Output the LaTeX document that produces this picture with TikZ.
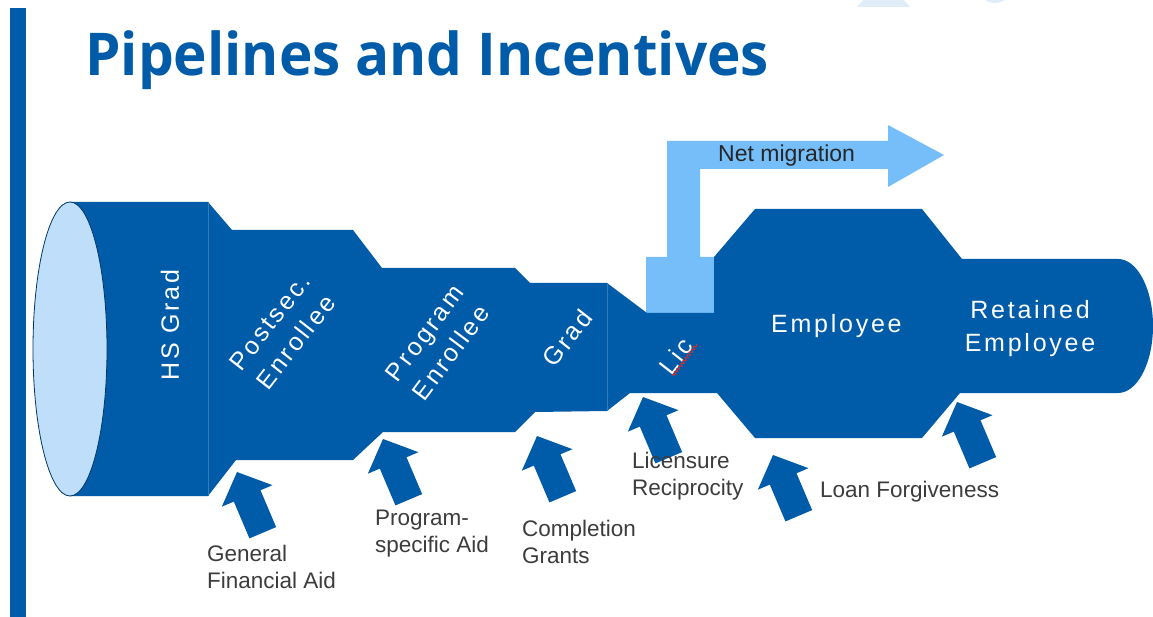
\documentclass[tikz,border=0pt]{standalone}
\usepackage{fontspec}
\setmainfont{Liberation Sans}
\newfontfamily\titlefont{Open Sans}
\newfontfamily\pipefont[LetterSpace=11]{Liberation Sans}
\usetikzlibrary{decorations.pathmorphing}
\definecolor{pipe}{RGB}{0,92,168}
\definecolor{mig}{RGB}{117,190,250}
\definecolor{capc}{RGB}{190,222,250}
\definecolor{lbl}{RGB}{60,60,60}
\definecolor{logo}{RGB}{224,236,248}
\definecolor{squig}{RGB}{215,45,45}
\begin{document}
\begin{tikzpicture}[x=1pt,y=-1pt,
  inlabel/.style={text=white, font=\pipefont\fontsize{25}{33}\selectfont, inner sep=0pt, align=center},
  outlabel/.style={text=lbl, font=\fontsize{22.5}{27}\selectfont, inner sep=0pt, align=left, anchor=base west},
  pics/incentive/.style={code={\fill[pipe] (0,0) -- (-27.5,26) -- (-14.5,26) -- (-14.5,66) -- (14.5,66) -- (14.5,26) -- (27.5,26) -- cycle;}}
]
\useasboundingbox (0,0) rectangle (1153,617);
\clip (0,0) rectangle (1153,617);
% faint logo fragments
\fill[logo] (857,7) -- (910,7) -- (883.5,-22) -- cycle;
\fill[logo] (995,-15) circle [radius=18pt];
% left bar
\fill[pipe] (10,8) rectangle (26,617);
% title
\node (title) [anchor=base west, text=pipe, inner sep=0pt, font=\titlefont\bfseries\fontsize{59}{70}\selectfont] at (85,76) {\scalebox{0.96}[1]{Pipelines and Incentives}};
% net migration arrow
\fill[mig] (646,257) -- (667,257) -- (667,141) -- (888,141) -- (888,125) -- (944,155) -- (888,187) -- (888,169) -- (700,169) -- (700,257) -- (714,257) -- (714,316) -- (646,316) -- cycle;
\node (net) [anchor=base west, text=black!85, inner sep=0pt, font=\fontsize{23}{27}\selectfont] at (718,162) {Net migration};
% pipeline body
\fill[pipe] (70,202) -- (208,202) -- (232,230) -- (353,230) -- (382,268) -- (515,268) -- (530,283) -- (607,283) -- (647,313) -- (714,313) -- (714,257) -- (755,209) -- (922,209) -- (962,259) -- (1118,259)
  arc[start angle=90, end angle=-90, x radius=35pt, y radius=67pt]
  -- (960,393) -- (922,438) -- (755,438) -- (717,393) -- (630,393) -- (607,411) -- (535,412) -- (515,432) -- (383,432) -- (353,460) -- (236,460) -- (208,496) -- (70,496) -- cycle;
\draw[pipe!80!white, line width=0.6pt] (208,202) -- (208,496);
\draw[pipe!80!white, line width=0.6pt] (607,283) -- (607,411);
% cylinder cap
\filldraw[fill=capc, draw=pipe!60!black, line width=0.8pt] (70,349) ellipse [x radius=37pt, y radius=147pt];
% stage labels
\node (hs) [inlabel, rotate=90] at (170,325) {HS Grad};
\node (post) [inlabel, rotate=52] at (283,332) {Postsec.\\Enrollee};
\node (prog) [inlabel, rotate=53] at (438,343) {Program\\Enrollee};
\node (grad) [inlabel, rotate=52] at (567,338) {Grad};
\node (lic) [inlabel, rotate=52] at (676,356) {Lic};
\draw[squig, line width=0.9pt, decorate, decoration={zigzag, amplitude=1.4pt, segment length=3.5pt}] (673,376) -- (697,344);
\node (emp) [inlabel, anchor=base west] at (771,333) {Employee};
\node (ret) [inlabel] at (1030,329) {Retained\\Employee};
% incentive arrows
\pic (a1) [rotate=23] at (237,472) {incentive};
\pic (a2) [rotate=23] at (383,439) {incentive};
\pic (a3) [rotate=23] at (537,436) {incentive};
\pic (a4) [rotate=23] at (643,397) {incentive};
\pic (a5) [rotate=23] at (773,455) {incentive};
\pic (a6) [rotate=23] at (957,402) {incentive};
% incentive labels (anchor on the last line's baseline)
\node (gfa) [outlabel] at (207,588) {General\\Financial Aid};
\node (psa) [outlabel] at (375,552) {Program-\\specific Aid};
\node (cg) [outlabel] at (522,563) {Completion\\Grants};
\node (lr) [outlabel] at (632,495) {Licensure\\Reciprocity};
\node (lf) [outlabel] at (820,497) {Loan Forgiveness};
\end{tikzpicture}
\end{document}
